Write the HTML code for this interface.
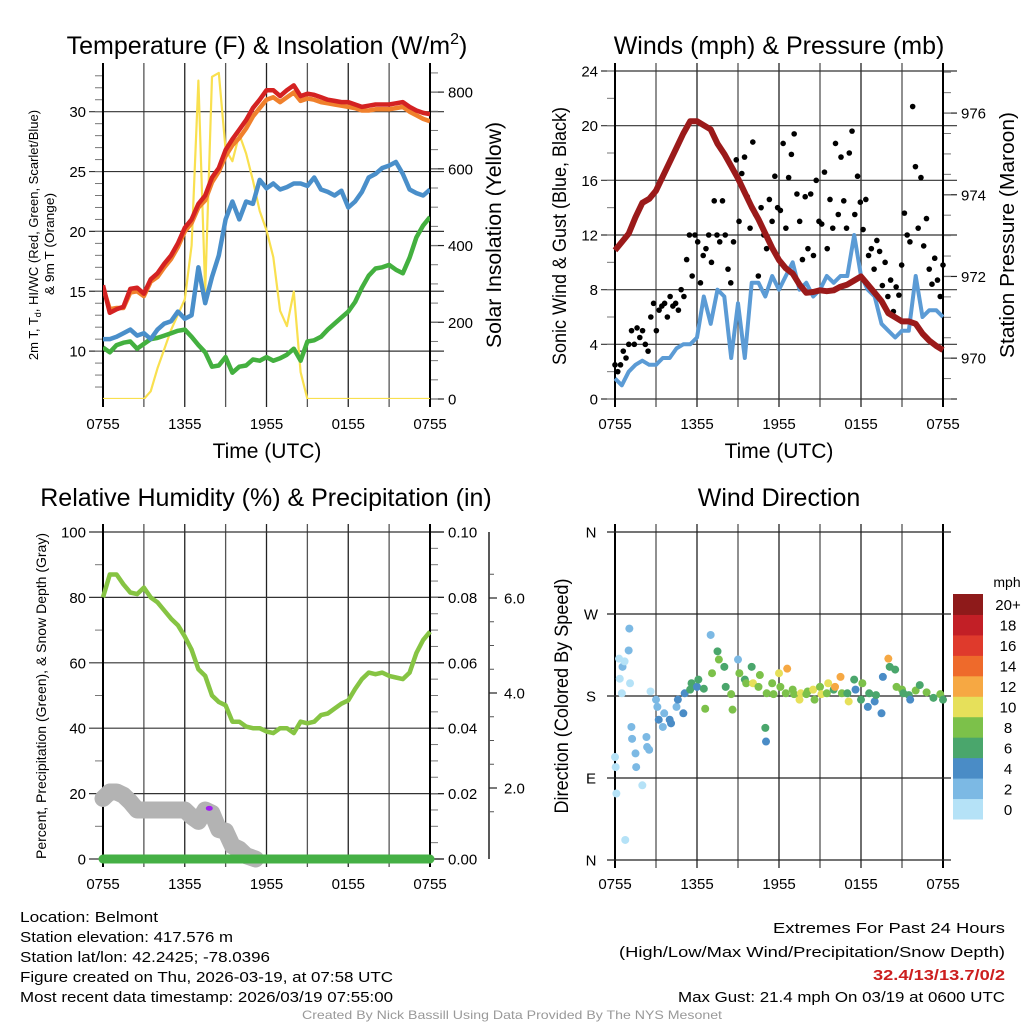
<!DOCTYPE html>
<html><head><meta charset="utf-8"><style>
html,body{margin:0;padding:0;background:#fff;}
svg{display:block;font-family:"Liberation Sans",sans-serif;}
</style></head><body>
<svg id="fig" width="1024" height="1024" viewBox="0 0 1024 1024" xmlns="http://www.w3.org/2000/svg"></svg>
<script>
// ---------- DATA (half-hour steps, 0 = 0755 UTC) ----------
const timeLabels = ["0755","1355","1955","0155","0755"];
const tempRed = [15.5,13.2,13.5,13.7,15.2,15.3,14.8,16,16.5,17.3,18,19,20.3,21,22.3,23,24.5,25.3,26.8,27.7,28.5,29.3,30.3,31,31.8,31.8,31.3,31.8,32.2,31.3,31.5,31.4,31.2,31,30.9,30.8,30.8,30.6,30.4,30.5,30.6,30.6,30.6,30.7,30.8,30.4,30.1,29.9,29.8];
const tempOrange = [15.3,13.5,13.6,13.6,14.9,15,14.6,15.8,16.2,17,17.7,18.7,20,20.7,22,22.6,24.1,25,26.3,27.2,27.8,28.6,29.6,30.3,31,31.2,30.8,31.2,31.6,30.9,31.1,31,30.8,30.7,30.6,30.5,30.4,30.3,30.1,30.1,30.2,30.2,30.2,30.3,30.4,30,29.7,29.4,29.2];
const tempBlue = [11,11,11.2,11.5,11.8,11.3,11.5,11,11.8,12.3,12.5,13.3,12.7,13,17,14,16.2,18,21,22.5,21,22.5,22.3,24.3,23.6,24,23.5,23.7,24,24,23.8,24.5,23.5,23.3,23,23.4,22,22.5,23.3,24.5,24.8,25.3,25.5,25.8,24.8,23.5,23.2,23,23.5];
const tempGreen = [10.3,9.9,10.5,10.7,10.8,10.2,10.6,11,11.1,11.3,11.5,11.7,11.8,11.2,10.5,9.9,8.7,8.8,9.5,8.2,8.7,8.8,9.3,9.2,9.5,9.2,9.4,9.7,10.2,9.2,10.8,10.9,11.2,11.8,12.3,12.8,13.3,14.1,15.3,16.3,16.9,17,17.2,16.8,16.5,17.8,19.5,20.5,21.2];
const solar = [0,0,0,0,0,0,0,20,80,130,180,220,260,400,830,280,840,850,650,620,690,640,570,490,440,370,230,190,280,70,0,0,0,0,0,0,0,0,0,0,0,0,0,0,0,0,0,0,0];
const windSust = [1.5,1,2,2.5,2.8,2.5,2.5,3,3,3.7,4,4,4.5,7.5,5.5,8,7.5,3,7,3,8.5,8.5,7.5,9,8,9,10,8,8.5,7.5,8,9,8.5,9,9,12,9,8,7.5,5.5,5,4.5,5,5,9,6,6.5,6.5,6];
const pressure = [972.64,972.84,973.05,973.45,973.8,973.9,974.1,974.45,974.8,975.15,975.5,975.8,975.8,975.7,975.6,975.25,975.0,974.7,974.4,974.05,973.7,973.4,973.05,972.7,972.4,972.2,972.07,971.8,971.6,971.62,971.66,971.64,971.66,971.75,971.8,971.9,972.0,971.8,971.6,971.4,971.1,971.0,970.9,970.9,970.84,970.6,970.43,970.3,970.2];
const gusts = [2.5,2,2.5,3.5,3,4,5,4,5.2,4.5,5,4, 3.5,6,7,5,6.5,6.8,7,6,7.5,6.8,7,6.5, 8,7.5,10.2,12,9,12,11.5,8.5,10.5,11,12,10, 14.5,12,11.5,14.5,12,9.5,8.5,11.5,17.5,13,16.5,17.7, 14.8,12.5,18.8,13.5,9,14,12,11,14.6,13,16.3,14, 13.8,18.7,12.5,16.2,17.9,19.4,15,13,10.2,14.8,11,15, 10.5,16,13,12.8,16.6,11,14.6,12.5,18.7,13.5,17.7,14.5, 12.5,18,19.6,13.5,16.3,14.4,12.4,14.6,10.5,11,9.5,11.6, 10.8,8.3,10,7.5,8.7,6.4,8.2,7.6,9.8,13.6,12,11.5, 21.4,17,12.5,16.2,11.2,13.2,9.5,8.4,10.3,8.7,7.5,9.8];
const rh = [80,87,87,84,81.5,81,83,80,78.5,76,73.5,71.5,68,64,58,56,50,48,47,42,42,40.5,40,40,39,38.5,40,40,38.5,42,41.5,42,44,44.5,46,47.5,48.5,52,55,57,56.5,57,56,55.5,55,57,63,67,69.5];
const snowHours = [0,0.5,1,1.5,2,2.5,3,4,5,6,6.5,7,7.5,8,8.5,9,9.5,10,10.5,11.2];
const snowVals = [18.5,20.5,20.5,19.5,17.5,15,15,15,15,15,13,11.5,15,14,9,8.5,4,3,1,0];
const dirHours = [0,0.05,0.1,0.3,0.35,0.5,0.55,0.7,0.75,1,1.05,1.1,1.2,1.25,1.5,1.55,2,2.3,2.35,2.5,2.6,3,3.1,3.2,3.5,3.6,4,4.1,4.5,4.6,5,5.1,5.5,5.6,6,6.1,6.5,6.6,7,7.1,7.5,7.6,8,8.1,8.5,8.6,9,9.1,9.5,9.6,10,10.1,10.5,10.6,11,11.05,11.1,11.5,11.6,12,12.1,12.5,12.6,13,13.1,13.5,13.6,14,14.1,14.5,14.6,15,15.1,15.5,15.6,16,16.1,16.5,16.6,17,17.1,17.5,17.6,18,18.1,18.5,18.6,19,19.1,19.5,19.6,20,20.1,20.5,20.6,21,21.1,21.5,21.6,22,22.3,22.8,23.3,23.8,24];
const dirVals = [113,102,73,221,199,183,212,218,22,230,254,194,146,133,117,102,82,135,124,121,185,176,168,154,146,161,154,150,168,176,161,183,187,194,190,198,188,166,247,205,229,220,212,190,182,165,220,205,198,194,212,194,190,203,145,130,183,194,182,205,190,183,210,187,182,176,183,182,185,187,176,190,182,183,194,187,190,201,183,183,174,198,187,176,194,168,183,174,181,161,201,221,212,209,190,187,183,181,176,186,192,184,178,182,176];
const dirSpeeds = [1,0.5,1,0.5,1,0.5,2,1,0.5,2,3,1,2,2,2,2.5,0.5,3,2,2,1,3,3,4,3,3,4,5,3,4,5,4,7,6,5,7,7,8,2,8,7,8,6,7,8,9,3,8,7,8,6,11,9,8,7,5,8,9,8,11,9,9,12,8,9,11,10,9,8,10,8,9,11,8,10,7,13,13,9,7,10,6,4,6,8,5,7,4,6,4,5,13,7,7,8,8,7,6,5,9,6,8,6,8,7];
const cbarLabels = ["0","2","4","6","8","10","12","14","16","18","20+"];
const cbarColors = ["#b5e2f7","#7cb9e4","#4a8cc6","#4aa66c","#7cc14a","#e6e05a","#f6a843","#ee6a2b","#df3a2c","#c21f26","#8e1a1a"];

// ---------- helpers ----------
const NS="http://www.w3.org/2000/svg";
const svg=document.getElementById('fig');
function el(tag,attrs,parent,txt){const e=document.createElementNS(NS,tag);for(const k in attrs)e.setAttribute(k,attrs[k]);if(txt!==undefined)e.textContent=txt;(parent||svg).appendChild(e);return e;}
function lin(d0,d1,r0,r1){return v=>r0+(v-d0)/(d1-d0)*(r1-r0);}
function pathFrom(xs,ys){return xs.map((x,i)=>(i?'L':'M')+x.toFixed(1)+','+ys[i].toFixed(1)).join('');}
const half = rh.map((_,i)=>i*0.5);
const TF=15;

function panelFrame(g,x0,x1,y0,y1,leftTicks,leftY,leftMinor,rightTicks,rightY,rightMinor,xLabY){
  const xs=lin(0,24,x0,x1);
  for(let h=0;h<=24;h+=3){const gl=el('line',{x1:xs(h),x2:xs(h),y1:y0-8,y2:y1+8,stroke:(h%6==0)?'#222':'#555','stroke-width':1.3},g);
    }
  leftTicks.forEach(t=>{const y=leftY(t.v);el('line',{x1:x0-14,x2:x1+14,y1:y,y2:y,stroke:'#333','stroke-width':1.2},g);
    const tl=el('text',{x:x0-17,y:y+5.5,'text-anchor':'end','font-size':TF},g,t.l);});
  leftMinor.forEach(v=>{const y=leftY(v);el('line',{x1:x0-8,x2:x0,y1:y,y2:y,stroke:'#777','stroke-width':1},g);});
  if(rightTicks){rightTicks.forEach(t=>{const y=rightY(t.v);el('line',{x1:x1,x2:x1+14,y1:y,y2:y,stroke:'#222','stroke-width':1.2},g);
    const tl=el('text',{x:x1+18,y:y+5.5,'font-size':TF},g,t.l);});
   rightMinor.forEach(v=>{const y=rightY(v);el('line',{x1:x1,x2:x1+8,y1:y,y2:y,stroke:'#777','stroke-width':1},g);});}
  el('line',{x1:x0,x2:x0,y1:y0-8,y2:y1+8,stroke:'#000','stroke-width':2},g);
  el('line',{x1:x1,x2:x1,y1:y0-8,y2:y1+8,stroke:'#000','stroke-width':2},g);
  timeLabels.forEach((l,i)=>{const t=el('text',{x:xs(i*6),y:xLabY,'text-anchor':'middle','font-size':TF},g,l);});
  return xs;
}
function title(txt,x,y,name){const t=el('text',{x:x,y:y,'text-anchor':'middle','font-size':25},svg,txt);return t;}
function vtitle(txt,x,cy,len,fs,name){const t=el('text',{x:0,y:0,'text-anchor':'middle','font-size':fs,transform:`translate(${x},${cy}) rotate(-90)`,textLength:len,lengthAdjust:'spacingAndGlyphs'},svg,txt);return t;}
function range(a,b,s){const r=[];for(let v=a;v<=b+1e-9;v+=s)r.push(+v.toFixed(3));return r;}

// ---------- Panel 1 ----------
{
const g=el('g',{});
const ty=lin(6,33.4,399,71), sy=lin(0,855,399,71);
const xs=panelFrame(g,103,430,71,399,[10,15,20,25,30].map(v=>({v,l:String(v)})),ty,range(7,33,1),
 [0,200,400,600,800].map(v=>({v,l:String(v)})),sy,range(0,850,50),429);
el('clipPath',{id:'c1'},svg).appendChild(el('rect',{x:103,y:60,width:327,height:339}));
const lines=[[solar,sy,'#f9e04f',2.2,'solar-insolation-line'],[tempGreen,ty,'#43b03f',4.5,'dewpoint-line'],[tempBlue,ty,'#4a8fca',4.5,'windchill-line'],[tempOrange,ty,'#f0802c',4.5,'temp-9m-line'],[tempRed,ty,'#d42222',4.5,'temp-2m-line']];
lines.forEach(([arr,sc,c,w,n])=>{const p=el('path',{d:pathFrom(half.map(xs),arr.map(sc)),fill:'none',stroke:c,'stroke-width':w,'stroke-linejoin':'round','clip-path':'url(#c1)'},g);
 });
const t=title('',267,54,'temperature-title');t.innerHTML='Temperature (F) &amp; Insolation (W/m<tspan dy="-10" font-size="16">2</tspan><tspan dy="10">)</tspan>';
const xt=el('text',{x:267,y:458,'text-anchor':'middle','font-size':21},svg,'Time (UTC)');
const a=vtitle('',38,235,270,13,'left-axis-title');a.innerHTML='2m T, T<tspan font-size="9" dy="3">d</tspan><tspan dy="-3">, HI/WC (Red, Green, Scarlet/Blue)</tspan>';a.removeAttribute('textLength');
vtitle('& 9m T (Orange)',54,244,102,13,'left-axis-title-line2');
vtitle('Solar Insolation (Yellow)',501,235,226,21,'right-axis-title');
}
// ---------- Panel 2 ----------
{
const g=el('g',{});
const wy=lin(0,24,399,71), py=lin(969,977.03,399,71);
const xs=panelFrame(g,615,943,71,399,[0,4,8,12,16,20,24].map(v=>({v,l:String(v)})),wy,range(0,24,2),
 [970,972,974,976].map(v=>({v,l:String(v)})),py,range(969,977,0.5),429);
const ws=el('path',{d:pathFrom(half.map(xs),windSust.map(wy)),fill:'none',stroke:'#5b9bd5','stroke-width':4,'stroke-linejoin':'round'},g);

const gx=lin(0,gusts.length-1,0,24);
gusts.forEach((v,i)=>{const c=el('circle',{cx:xs(gx(i)),cy:wy(v),r:2.8,fill:'#000'},g);});
const pp=el('path',{d:pathFrom(half.map(xs),pressure.map(py)),fill:'none',stroke:'#9b1a1a','stroke-width':6,'stroke-linejoin':'round'},g);

title('Winds (mph) & Pressure (mb)',779,54,'winds-title');
const xt=el('text',{x:779,y:458,'text-anchor':'middle','font-size':21},svg,'Time (UTC)');
vtitle('Sonic Wind & Gust (Blue, Black)',566,236,258,19,'left-axis-title');
vtitle('Station Pressure (Maroon)',1014,235,246,20,'right-axis-title');
}
// ---------- Panel 3 ----------
{
const g=el('g',{});
const ry=lin(0,100,859,532);
const xs=panelFrame(g,103,430,532,859,[0,20,40,60,80,100].map(v=>({v,l:String(v)})),ry,range(10,90,20),
 ['0.00','0.02','0.04','0.06','0.08','0.10'].map((l,i)=>({v:i*20,l})),ry,range(5,95,5),889);
const sdy=lin(2,6,788,598);
el('line',{x1:489,x2:489,y1:532,y2:859,stroke:'#222','stroke-width':1.5},g);
[2,4,6].forEach(v=>{el('line',{x1:489,x2:497,y1:sdy(v),y2:sdy(v),stroke:'#222','stroke-width':1.2},g);
 const t=el('text',{x:504,y:sdy(v)+5.5,'font-size':TF},g,v.toFixed(1));});
[1.5,2.5,3,3.5,4.5,5,5.5,6.5].forEach(v=>el('line',{x1:489,x2:494,y1:sdy(v),y2:sdy(v),stroke:'#555','stroke-width':1},g));
const sp=el('path',{d:pathFrom(snowHours.map(xs),snowVals.map(ry)),fill:'none',stroke:'#b3b3b3','stroke-width':17,'stroke-linejoin':'round','stroke-linecap':'round'},g);

const pr=el('line',{x1:xs(0),x2:xs(24),y1:ry(0),y2:ry(0),stroke:'#45b045','stroke-width':9,'stroke-linecap':'round'},g);

const rl=el('path',{d:pathFrom(half.map(xs),rh.map(ry)),fill:'none',stroke:'#86c443','stroke-width':4.5,'stroke-linejoin':'round'},g);

const pd=el('ellipse',{cx:xs(7.8),cy:ry(15.5),rx:3.5,ry:2.5,fill:'#a020f0'},g);
title('Relative Humidity (%) & Precipitation (in)',266,506,'humidity-title');
vtitle('Percent, Precipitation (Green), & Snow Depth (Gray)',46,696,326,14,'left-axis-title');
}
// ---------- Panel 4 ----------
{
const g=el('g',{});
const dy=lin(0,360,860,532);
const xs=panelFrame(g,615,943,532,860,[],dy,[],null,null,null,889);
['N','E','S','W','N'].forEach((l,i)=>{const y=dy(i*90);el('line',{x1:607,x2:951,y1:y,y2:y,stroke:'#222','stroke-width':1.2},g);
 const t=el('text',{x:591,y:y+5.5,'text-anchor':'middle','font-size':TF},g,l);});
dirVals.forEach((d,i)=>{const s=dirSpeeds[i];const bin=Math.min(10,Math.floor(s/2));
 const c=el('circle',{cx:xs(dirHours[i]),cy:dy(d),r:4,fill:cbarColors[bin]},g);});
title('Wind Direction',779,506,'wind-direction-title');
vtitle('Direction (Colored By Speed)',568,696,235,19,'left-axis-title');
const cb=el('g',{},svg);
const bh=225/11;
cbarColors.forEach((c,i)=>{const y=819-(i+1)*bh;el('rect',{x:953,y:y,width:30,height:bh+0.5,fill:c},cb);
 const t=el('text',{x:1008,y:y+bh/2+6,'text-anchor':'middle','font-size':15},cb,cbarLabels[i]);});
const m=el('text',{x:1007,y:587,'text-anchor':'middle','font-size':14},cb,'mph');
}
// ---------- Footer ----------
const info=[['Location: Belmont',138],['Station elevation: 417.576 m',213],['Station lat/lon: 42.2425; -78.0396',250],['Figure created on Thu, 2026-03-19, at 07:58 UTC',373],['Most recent data timestamp: 2026/03/19 07:55:00',373]];
info.forEach(([s,w],i)=>{const t=el('text',{x:20,y:922+i*20,'font-size':15,textLength:w,lengthAdjust:'spacingAndGlyphs'},svg,s);});
const rt=[['Extremes For Past 24 Hours',933,'#000','normal',232],['(High/Low/Max Wind/Precipitation/Snow Depth)',957,'#000','normal',386],['32.4/13/13.7/0/2',980,'#cc1f1f','bold',132],['Max Gust: 21.4 mph On 03/19 at 0600 UTC',1002,'#000','normal',327]];
rt.forEach(([s,y,c,fw,w])=>{const t=el('text',{x:1005,y:y,'text-anchor':'end','font-size':15,fill:c,'font-weight':fw,textLength:w,lengthAdjust:'spacingAndGlyphs'},svg,s);});
const cr=el('text',{x:512,y:1019,'text-anchor':'middle','font-size':12,fill:'#999',textLength:420,lengthAdjust:'spacingAndGlyphs'},svg,'Created By Nick Bassill Using Data Provided By The NYS Mesonet');

</script>
</body></html>
